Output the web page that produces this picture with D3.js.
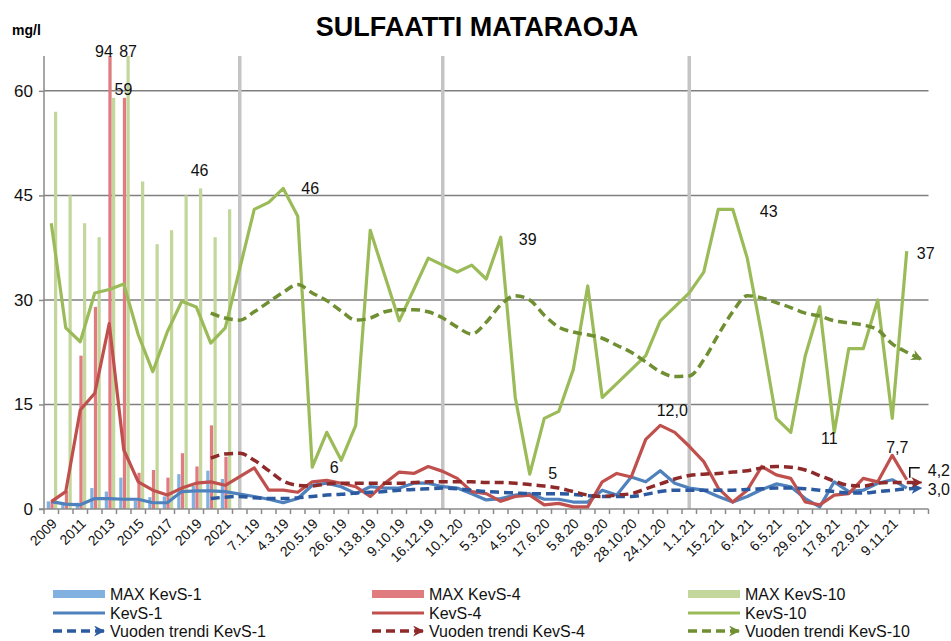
<!DOCTYPE html>
<html><head><meta charset="utf-8">
<script src="https://cdn.jsdelivr.net/npm/d3@7"></script>
<style>
body{margin:0;background:#fff;}
svg{display:block;font-family:"Liberation Sans",Arial,sans-serif;}
</style>
</head><body>
<svg id="chart" width="951" height="641"></svg>
<script>
// ---------- DATA ----------
const categories = ["2009","2010","2011","2012","2013","2014","2015","2016","2017","2018","2019","2020","2021","",
 "7.1.19","","4.3.19","","20.5.19","","26.6.19","","13.8.19","","9.10.19","","16.12.19","",
 "10.1.20","","5.3.20","","4.5.20","","17.6.20","","5.8.20","","28.9.20","","28.10.20","","24.11.20","",
 "1.1.21","","15.2.21","","6.4.21","","6.5.21","","29.6.21","","17.8.21","","22.9.21","","9.11.21","",""];
const separatorIdx = [13, 27, 44];
const yTicks = [0, 15, 30, 45, 60];

// yearly maxima (indices 0..12)
const maxKevS1  = [1.1, 0.8, 0.9, 3.0, 2.5, 4.5, 1.2, 1.7, 1.8, 5.0, 3.3, 5.5, 4.3];
const maxKevS4  = [1.1, 2.6, 22, 29, 94, 59, 5.2, 5.6, 4.5, 8.0, 6.1, 12, 7.5];
const maxKevS10 = [57, 45, 41, 39, 59, 87, 47, 38, 40, 45, 46, 39, 43];

// measured series (index 0..60, null = no value)
const kevS1 = [1.05,0.7,0.6,1.5,1.5,1.4,1.4,0.9,0.9,2.5,2.6,2.6,2.5,null,
 1.8,1.4,0.9,1.5,3.4,3.7,3.2,2.2,3.2,3.0,3.0,3.7,3.7,3.2,3.0,2.2,1.3,1.5,2.0,2.2,1.4,1.4,1.0,1.0,
 2.7,2.0,4.6,3.9,5.5,3.7,3.0,2.7,1.8,1.0,1.8,2.8,3.6,3.2,1.5,0.3,3.9,2.5,2.7,3.7,4.2,3.0,null];
const kevS4 = [1.05,2.5,14.2,16.6,26.6,8.5,3.9,2.7,2.0,3.0,3.7,3.9,3.4,null,
 5.9,2.7,2.7,2.4,3.9,4.1,3.7,3.2,1.8,3.7,5.3,5.1,6.1,5.4,4.4,2.5,2.2,1.1,1.8,2.0,0.6,0.8,0.3,0.3,
 3.9,5.1,4.6,10,12.0,11,9,6.8,3.0,1.0,2.7,6.1,4.9,4.4,1.0,0.6,2.0,2.2,4.4,3.9,7.7,4.2,null];
const kevS10 = [41,26,24,31,31.5,32.3,25,19.7,25.4,29.8,29,23.8,26,null,
 43,44,46,42,6,11,7,12,40,33.5,27,31.5,36,35,34,35,33,39,16,5,13,14,20,32,
 16,18,20,22,27,29,31,34,43,43,36,25,13,11,22,29,11,23,23,30,13,37,null];

// yearly trends (index 0..60)
const trendKevS1 = [null,null,null,null,null,null,null,null,null,null,null,1.5,1.7,1.8,
 1.6,1.5,1.5,1.6,1.8,2.0,2.1,2.3,2.4,2.5,2.7,2.8,2.9,3.0,2.9,2.7,2.5,2.4,2.3,2.2,2.2,2.2,2.1,1.9,
 1.8,1.8,1.8,2.1,2.5,2.7,2.7,2.7,2.7,2.7,2.8,2.9,3.0,3.0,2.9,2.7,2.5,2.3,2.3,2.5,2.7,2.9,3.0];
const trendKevS4 = [null,null,null,null,null,null,null,null,null,null,null,7.3,7.9,8.0,
 7.0,5.5,4.0,3.4,3.3,3.6,3.7,3.7,3.7,3.7,3.7,3.8,3.9,3.9,3.9,3.9,3.8,3.8,3.7,3.5,3.3,3.0,2.5,2.0,
 1.8,2.0,2.2,2.9,3.6,4.3,4.8,5.0,5.1,5.3,5.5,5.9,6.1,6.0,5.6,4.8,4.0,3.4,3.3,3.7,3.8,3.8,3.8];
const trendKevS10 = [null,null,null,null,null,null,null,null,null,null,null,28.1,27.4,27.1,
 28.3,29.7,31.1,32.2,31.0,29.9,28.4,27.1,27.4,28.3,28.6,28.6,28.3,27.4,26.1,25.1,26.8,29.3,30.6,30.0,27.8,26.1,25.4,25.0,
 24.5,23.5,22.5,21.1,19.7,19.0,19.1,21.4,25.0,28.3,30.6,30.3,29.6,28.9,28.1,27.7,27.0,26.7,26.4,25.7,23.7,22.5,21.5];

// ---------- LAYOUT ----------
const svg = d3.select("#chart");
const X0 = 44, X1 = 928.5, Y0 = 509, Y1 = 56;
const x = d3.scaleBand().domain(d3.range(categories.length)).range([X0, X1]).padding(0);
const cx = i => x(i) + x.bandwidth() / 2;
const y = d3.scaleLinear().domain([0, 65]).range([Y0, Y1]);
const seriesKeys = ["s1", "s4", "s10"];
const inner = d3.scaleBand().domain(seriesKeys).range([-4.5, 6]).paddingInner(0.1);

const col = {
  s1:  {bar:"#80b1e0", line:"#4f81bd", trend:"#2c5aa0"},
  s4:  {bar:"#e07c80", line:"#c0504d", trend:"#8e2a2a"},
  s10: {bar:"#c3d69b", line:"#9bbb59", trend:"#6f8f32"}
};
const axisCol = "#8a8a8a";

const defs = svg.append("defs");
defs.append("clipPath").attr("id","plotclip")
  .append("rect").attr("x", X0).attr("y", Y1).attr("width", X1 - X0).attr("height", Y0 - Y1);
Object.entries(col).forEach(([k, c]) => {
  defs.append("marker").attr("id", "arr-" + k)
    .attr("viewBox", "0 0 10 10").attr("refX", 9).attr("refY", 5)
    .attr("markerUnits", "userSpaceOnUse").attr("markerWidth", 11).attr("markerHeight", 11)
    .attr("orient", "auto")
    .append("path").attr("d", "M0,0 L10,5 L0,10 L3,5 Z").attr("fill", c.trend);
});

// title
svg.append("text").attr("x", 477).attr("y", 36).attr("text-anchor", "middle")
  .attr("font-size", 27).attr("font-weight", "bold").text("SULFAATTI MATARAOJA");
svg.append("text").attr("x", 12).attr("y", 35).attr("font-size", 14).attr("font-weight", "bold").text("mg/l");

// grid
svg.append("g").selectAll("line").data(yTicks.filter(t => t > 0)).join("line")
  .attr("x1", X0).attr("x2", X1).attr("y1", d => y(d)).attr("y2", d => y(d))
  .attr("stroke", "#7f7f7f").attr("stroke-width", 1.5);

// separators
svg.append("g").selectAll("line").data(separatorIdx).join("line")
  .attr("x1", d => cx(d)).attr("x2", d => cx(d)).attr("y1", Y1).attr("y2", Y0)
  .attr("stroke", "#c4c4c4").attr("stroke-width", 3.5);

// bars
const barData = [];
maxKevS1.forEach((v, i) => barData.push({i, k:"s1", v}));
maxKevS4.forEach((v, i) => barData.push({i, k:"s4", v}));
maxKevS10.forEach((v, i) => barData.push({i, k:"s10", v}));
svg.append("g").attr("clip-path", "url(#plotclip)").selectAll("rect")
  .data(barData.filter(d => d.v != null)).join("rect")
  .attr("x", d => cx(d.i) + inner(d.k)).attr("width", inner.bandwidth())
  .attr("y", d => y(d.v)).attr("height", d => Y0 - y(d.v))
  .attr("fill", d => col[d.k].bar);

// axes
const yAxis = svg.append("g").attr("transform", `translate(${X0},0)`)
  .call(d3.axisLeft(y).tickValues(yTicks).tickSize(5).tickPadding(6));
yAxis.select(".domain").attr("stroke", axisCol).attr("stroke-width", 1.5).attr("d", `M-5,${Y0}H0V${Y1}`);
yAxis.selectAll(".tick line").attr("stroke", axisCol).attr("stroke-width", 1.5);
yAxis.selectAll("text").attr("font-size", 17).attr("font-family", "Liberation Sans, Arial").attr("fill", "#111");

const xAxis = svg.append("g").attr("transform", `translate(0,${Y0})`)
  .call(d3.axisBottom(x).tickSize(0).tickFormat((d) => d % 2 === 0 ? categories[d] : ""));
xAxis.select(".domain").attr("stroke", axisCol).attr("stroke-width", 1.5).attr("d", `M${X0},0H${X1}`);
xAxis.selectAll(".tick text")
  .attr("font-size", 14).attr("font-family", "Liberation Sans, Arial").attr("fill", "#111")
  .attr("text-anchor", "end").attr("x", 0).attr("y", 0).attr("dy", "0.35em")
  .attr("transform", "translate(3,12) rotate(-45)");
svg.append("g").selectAll("line").data(d3.range(categories.length + 1)).join("line")
  .attr("x1", i => X0 + i * x.step()).attr("x2", i => X0 + i * x.step())
  .attr("y1", Y0).attr("y2", Y0 + 5).attr("stroke", axisCol).attr("stroke-width", 1.5);

// lines
const lineGen = d3.line().x(d => cx(d.i)).y(d => y(d.v));
const pts = arr => arr.map((v, i) => ({i, v})).filter(d => d.v != null);
const lg = svg.append("g").attr("fill", "none").attr("stroke-linejoin", "round");
[["s1", kevS1], ["s4", kevS4], ["s10", kevS10]].forEach(([k, arr]) => {
  lg.append("path").attr("d", lineGen(pts(arr))).attr("stroke", col[k].line).attr("stroke-width", 3.2);
});
const trendGen = d3.line().x(d => cx(d.i)).y(d => y(d.v)).curve(d3.curveMonotoneX);
[["s1", trendKevS1], ["s4", trendKevS4], ["s10", trendKevS10]].forEach(([k, arr]) => {
  lg.append("path").attr("d", trendGen(pts(arr))).attr("stroke", col[k].trend)
    .attr("stroke-width", 3.5).attr("stroke-dasharray", "9,5").attr("marker-end", `url(#arr-${k})`);
});

// annotations
const seriesByName = {maxKevS4, maxKevS10, kevS1, kevS4, kevS10};
const barOff = {maxKevS4: inner("s4") + inner.bandwidth()/2, maxKevS10: inner("s10") + inner.bandwidth()/2};
const annotations = [
  {s:"maxKevS4", i:4, dec:0, dx:-6, dy:1},
  {s:"maxKevS10", i:5, dec:0, dx:0, dy:1},
  {s:"maxKevS4", i:5, dec:0, dx:-1, dy:-3},
  {s:"maxKevS10", i:10, dec:0, dx:-1, dy:-12},
  {s:"kevS10", i:16, dec:0, dx:27, dy:6},
  {s:"kevS10", i:18, dec:0, dx:22, dy:6},
  {s:"kevS10", i:31, dec:0, dx:27, dy:8},
  {s:"kevS10", i:33, dec:0, dx:23, dy:5},
  {s:"kevS4", i:42, dec:1, dx:12, dy:-9},
  {s:"kevS10", i:47, dec:0, dx:36, dy:8},
  {s:"kevS10", i:54, dec:0, dx:-5, dy:12},
  {s:"kevS4", i:58, dec:1, dx:5, dy:-2},
  {s:"kevS10", i:59, dec:0, dx:19, dy:8},
  {s:"kevS4", i:59, dec:1, dx:21, dy:-4, anchor:"start"},
  {s:"kevS1", i:59, dec:1, dx:21, dy:7, anchor:"start"}
];
const fmt = (v, dec) => d3.format(`.${dec}f`)(v).replace(".", ",");
svg.append("g").selectAll("text").data(annotations).join("text")
  .attr("x", a => cx(a.i) + (barOff[a.s] || 0) + a.dx)
  .attr("y", a => y(Math.min(seriesByName[a.s][a.i], 65)) + a.dy)
  .attr("text-anchor", a => a.anchor || "middle")
  .attr("font-size", 16).attr("fill", "#111")
  .text(a => fmt(seriesByName[a.s][a.i], a.dec));
// leader for last KevS-4 value
const lx = cx(59), ly = y(kevS4[59]);
svg.append("path").attr("d", `M${lx + 3},${ly - 2}V${ly - 12}H${lx + 13}`)
  .attr("fill", "none").attr("stroke", "#111").attr("stroke-width", 1.5);

// legend
const legendCols = [53, 372, 688];
const legendRows = [594, 613, 631];
const legendItems = [
  {k:"s1", type:"bar", label:"MAX KevS-1"}, {k:"s1", type:"line", label:"KevS-1"}, {k:"s1", type:"trend", label:"Vuoden trendi KevS-1"},
  {k:"s4", type:"bar", label:"MAX KevS-4"}, {k:"s4", type:"line", label:"KevS-4"}, {k:"s4", type:"trend", label:"Vuoden trendi KevS-4"},
  {k:"s10", type:"bar", label:"MAX KevS-10"}, {k:"s10", type:"line", label:"KevS-10"}, {k:"s10", type:"trend", label:"Vuoden trendi KevS-10"}
];
const lgd = svg.append("g");
legendItems.forEach((it, n) => {
  const lx0 = legendCols[Math.floor(n / 3)], ly0 = legendRows[n % 3];
  if (it.type === "bar") {
    lgd.append("rect").attr("x", lx0).attr("y", ly0 - 4).attr("width", 52).attr("height", 8).attr("fill", col[it.k].bar);
  } else if (it.type === "line") {
    lgd.append("line").attr("x1", lx0).attr("x2", lx0 + 52).attr("y1", ly0).attr("y2", ly0)
      .attr("stroke", col[it.k].line).attr("stroke-width", 3.2);
  } else {
    lgd.append("line").attr("x1", lx0).attr("x2", lx0 + 51).attr("y1", ly0).attr("y2", ly0)
      .attr("stroke", col[it.k].trend).attr("stroke-width", 3.5).attr("stroke-dasharray", "9,5")
      .attr("marker-end", `url(#arr-${it.k})`);
  }
  lgd.append("text").attr("x", lx0 + 57).attr("y", ly0 + 5.5).attr("font-size", 16).attr("fill", "#111").text(it.label);
});
</script>
</body></html>
